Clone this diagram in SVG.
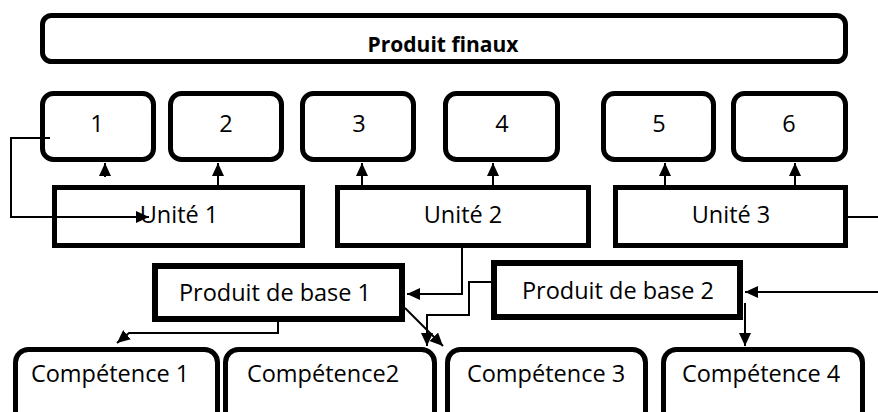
<svg xmlns="http://www.w3.org/2000/svg" width="878" height="412" viewBox="0 0 878 412">
<style>
.box{fill:#fff;stroke:#000;stroke-width:5}
.thick{fill:#fff;stroke:#000;stroke-width:6}
.t{font-family:"Open Sans","Liberation Sans",sans-serif;font-size:23.5px;fill:#000;text-anchor:middle}
.b{font-weight:bold;font-size:21px}
.c{fill:none;stroke:#000;stroke-width:2}
</style>
<defs>
<marker id="ah" markerUnits="userSpaceOnUse" markerWidth="13" markerHeight="12" refX="13" refY="6" orient="auto">
<path d="M0,0 L13,6 L0,12 z" fill="#000"/>
</marker>
</defs>
<rect width="878" height="412" fill="#fff"/>
<g id="produit-finaux"><rect class="box" x="42.5" y="15.5" width="803" height="46" rx="9"/><text class="t b" x="443" y="52">Produit finaux</text></g>
<g id="n1"><rect class="box" x="42.5" y="93.5" width="111" height="66" rx="11"/><text class="t" x="97" y="132">1</text></g>
<g id="n2"><rect class="box" x="170.5" y="93.5" width="111" height="66" rx="11"/><text class="t" x="226" y="132">2</text></g>
<g id="n3"><rect class="box" x="302.5" y="93.5" width="111" height="66" rx="11"/><text class="t" x="359" y="132">3</text></g>
<g id="n4"><rect class="box" x="445.5" y="93.5" width="112" height="66" rx="11"/><text class="t" x="502" y="132">4</text></g>
<g id="n5"><rect class="box" x="603.5" y="93.5" width="110" height="66" rx="11"/><text class="t" x="659" y="132">5</text></g>
<g id="n6"><rect class="box" x="733.5" y="93.5" width="112" height="66" rx="11"/><text class="t" x="789" y="132">6</text></g>
<g id="unite1"><rect class="box" x="54.5" y="187.5" width="248" height="58"/><text class="t" x="179" y="223">Unité 1</text></g>
<g id="unite2"><rect class="box" x="337.5" y="187.5" width="251" height="58"/><text class="t" x="463" y="223">Unité 2</text></g>
<g id="unite3"><rect class="box" x="615.5" y="187.5" width="230" height="58"/><text class="t" x="731" y="223">Unité 3</text></g>
<g id="base1"><rect class="thick" x="155" y="266" width="247" height="53"/><text class="t" x="275" y="301">Produit de base 1</text></g>
<g id="base2"><rect class="thick" x="494" y="263" width="246" height="54"/><text class="t" x="618" y="299">Produit de base 2</text></g>
<g id="comp1"><rect class="box" x="15.5" y="349.5" width="202" height="80" rx="13"/><text class="t" x="110" y="382">Compétence 1</text></g>
<g id="comp2"><rect class="box" x="225.5" y="349.5" width="209" height="80" rx="13"/><text class="t" x="323" y="382">Compétence2</text></g>
<g id="comp3"><rect class="box" x="447.5" y="349.5" width="198" height="80" rx="13"/><text class="t" x="546" y="382">Compétence 3</text></g>
<g id="comp4"><rect class="box" x="663.5" y="349.5" width="199" height="80" rx="13"/><text class="t" x="761" y="382">Compétence 4</text></g>
<g id="connectors">
<path class="c" d="M105,177 V163" marker-end="url(#ah)"/>
<path class="c" d="M218,185 V163" marker-end="url(#ah)"/>
<path class="c" d="M362,185 V163" marker-end="url(#ah)"/>
<path class="c" d="M493,185 V163" marker-end="url(#ah)"/>
<path class="c" d="M665,185 V163" marker-end="url(#ah)"/>
<path class="c" d="M795,185 V163" marker-end="url(#ah)"/>
<path class="c" d="M50,138 H11 V217 H149" marker-end="url(#ah)"/>
<path class="c" d="M848,217 H878"/>
<path class="c" d="M278,322 V333 H129 L117,343" marker-end="url(#ah)"/>
<path class="c" d="M462,248 V294 H407" marker-end="url(#ah)"/>
<path class="c" d="M491,282 H469 V315 H427 V346" marker-end="url(#ah)"/>
<path class="c" d="M405,308 L443,346" marker-end="url(#ah)"/>
<path class="c" d="M878,292 H745" marker-end="url(#ah)"/>
<path class="c" d="M745,303 V346" marker-end="url(#ah)"/>
</g>
</svg>
